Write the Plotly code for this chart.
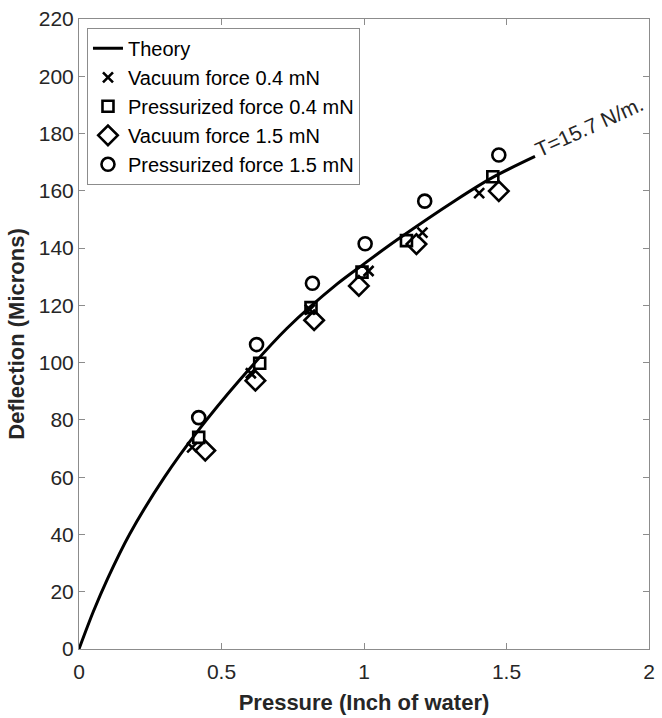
import plotly.graph_objects as go

# Theory curve (membrane deflection vs. pressure)
theory_p = [0, 0.05, 0.10, 0.177, 0.30, 0.42, 0.56, 0.73, 0.906, 1.0, 1.115, 1.323, 1.45, 1.60]
theory_d = [0, 13, 24.5, 40, 60, 76.5, 93.5, 112, 127.5, 134.5, 142.8, 156.8, 164.6, 172]

# Measured deflections
vac04_p = [0.397, 0.603, 0.81, 1.016, 1.205, 1.404]
vac04_d = [70.4, 96.3, 118.5, 132.0, 145.4, 159.2]

pres04_p = [0.42, 0.634, 0.814, 0.993, 1.149, 1.452]
pres04_d = [73.9, 99.8, 119.2, 131.6, 142.6, 164.9]

vac15_p = [0.443, 0.619, 0.825, 0.982, 1.184, 1.473]
vac15_d = [69.3, 93.7, 114.8, 126.8, 141.4, 159.9]

pres15_p = [0.42, 0.623, 0.819, 1.004, 1.213, 1.473]
pres15_d = [80.8, 106.3, 127.7, 141.5, 156.4, 172.5]

FONT = "Liberation Sans, Arial, sans-serif"
TXT = "#262626"
AX = "#8c8c8c"

fig = go.Figure()
fig.add_trace(go.Scatter(x=theory_p, y=theory_d, mode="lines", name="Theory",
                         line=dict(color="black", width=3, shape="spline", smoothing=0.8)))

def markers(px, dy, name, sym, size):
    fig.add_trace(go.Scatter(
        x=px, y=dy, mode="markers", name=name,
        marker=dict(symbol=sym, size=size, color="black",
                    line=dict(color="black", width=2.6))))

markers(vac04_p, vac04_d, "Vacuum force 0.4 mN", "x-thin-open", 10)
markers(pres04_p, pres04_d, "Pressurized force 0.4 mN", "square-open", 11)
markers(vac15_p, vac15_d, "Vacuum force 1.5 mN", "diamond-open", 15)
markers(pres15_p, pres15_d, "Pressurized force 1.5 mN", "circle-open", 13)

fig.add_annotation(x=1.79, y=182.6, xref="x", yref="y", text="T=15.7 N/m.",
                   showarrow=False, textangle=-24.5,
                   font=dict(family=FONT, size=21, color=TXT))

axis_common = dict(showgrid=False, zeroline=False, showline=True, linecolor=AX,
                   linewidth=1, mirror="ticks", ticks="inside", ticklen=6,
                   tickcolor=AX, tickfont=dict(family=FONT, size=21, color=TXT))

fig.update_xaxes(range=[0, 2], tickmode="array", tickvals=[0, 0.5, 1, 1.5, 2],
                 ticktext=["0", "0.5", "1", "1.5", "2"], ticklabelstandoff=4,
                 title=dict(text="<b>Pressure (Inch of water)</b>", standoff=12,
                            font=dict(family=FONT, size=22, color=TXT)),
                 **axis_common)
fig.update_yaxes(range=[0, 220], dtick=20,
                 title=dict(text="<b>Deflection (Microns)</b>", standoff=8,
                            font=dict(family=FONT, size=22, color=TXT)),
                 **axis_common)

fig.update_layout(
    width=662, height=718,
    margin=dict(l=79, r=7, t=16, b=68),
    paper_bgcolor="white", plot_bgcolor="white",
    showlegend=True,
    legend=dict(x=0.014, y=0.986, xanchor="left", yanchor="top",
                bgcolor="white", bordercolor=AX, borderwidth=1,
                font=dict(family=FONT, size=20, color="black"),
                tracegroupgap=0, itemwidth=30),
)

fig.write_html("out.html")
